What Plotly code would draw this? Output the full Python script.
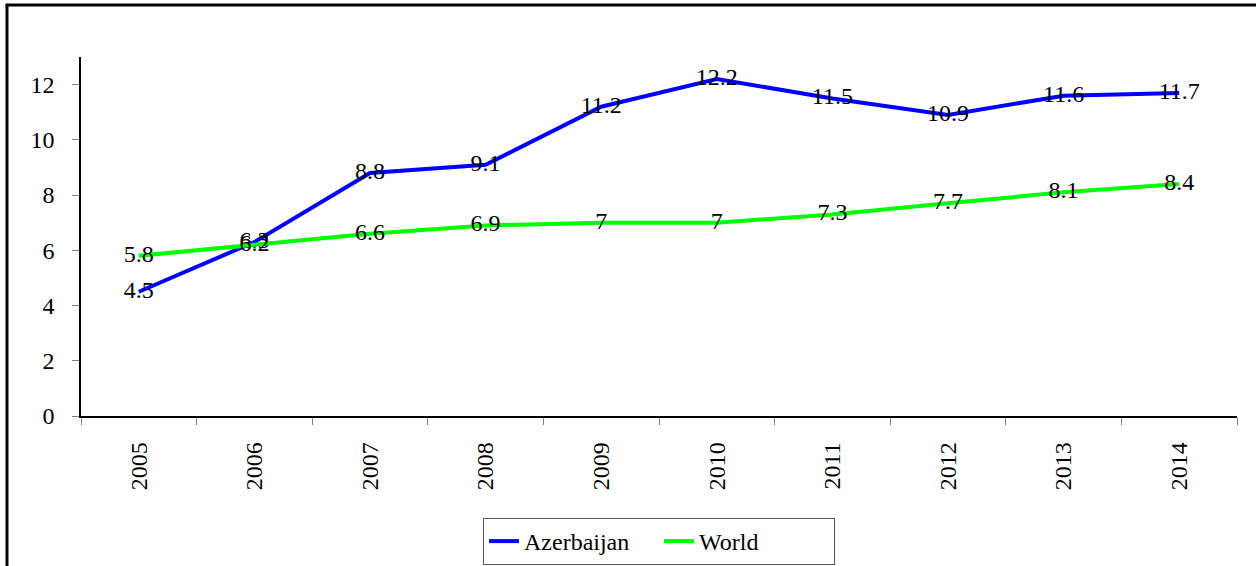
import plotly.graph_objects as go

# Annual values, 2005-2014
years = ["2005", "2006", "2007", "2008", "2009", "2010", "2011", "2012", "2013", "2014"]
azerbaijan = [4.5, 6.3, 8.8, 9.1, 11.2, 12.2, 11.5, 10.9, 11.6, 11.7]
world = [5.8, 6.2, 6.6, 6.9, 7, 7, 7.3, 7.7, 8.1, 8.4]
y_ticks = [0, 2, 4, 6, 8, 10, 12]

FONT = "Liberation Serif"
FS = 24
W, H = 1256, 566
L, R, T, B = 81, 19, 57, 150
pw, ph = W - L - R, H - T - B


def px_x(x):
    return (x - L) / pw


def px_y(y):
    return (H - B - y) / ph


fig = go.Figure()
fig.add_trace(go.Scatter(
    x=years, y=azerbaijan, name="Azerbaijan", mode="lines+text",
    line=dict(color="#0000FF", width=4),
    texttemplate="%{y}", textposition="middle center",
    textfont=dict(family=FONT, size=FS, color="black"),
))
fig.add_trace(go.Scatter(
    x=years, y=world, name="World", mode="lines+text",
    line=dict(color="#00FF00", width=4),
    texttemplate="%{y}", textposition="middle center",
    textfont=dict(family=FONT, size=FS, color="black"),
))

fig.update_layout(
    width=W, height=H,
    margin=dict(l=L, r=R, t=T, b=B, autoexpand=False),
    paper_bgcolor="white", plot_bgcolor="white",
    font=dict(family=FONT, size=FS, color="black"),
    showlegend=True,
    legend=dict(
        orientation="h", x=0.5, xanchor="center", y=px_y(518), yanchor="top",
        bordercolor="#555555", borderwidth=1,
        font=dict(family=FONT, size=FS, color="black"),
        entrywidth=130, entrywidthmode="pixels",
        itemclick=False,
    ),
    shapes=[
        # frame: left and top edges
        dict(type="line", xref="paper", yref="paper",
             x0=px_x(7), x1=px_x(7), y0=px_y(5), y1=px_y(600),
             line=dict(color="black", width=3)),
        dict(type="line", xref="paper", yref="paper",
             x0=px_x(5.5), x1=px_x(1270), y0=px_y(5), y1=px_y(5),
             line=dict(color="black", width=3)),
    ],
)

fig.update_xaxes(
    type="category", range=[-0.5, 9.5],
    showline=True, linecolor="black", linewidth=1.5,
    ticks="outside", tickson="boundaries", ticklen=7, tickcolor="#808080",
    tickangle=-90, showgrid=False, zeroline=False,
    ticklabelstandoff=15,
)
fig.update_yaxes(
    range=[0, 13], tickvals=y_ticks,
    showline=True, linecolor="black", linewidth=1.5,
    ticks="outside", ticklen=7, tickcolor="#808080",
    showgrid=False, zeroline=False,
    ticklabelstandoff=13,
)

fig.write_html("out.html")
